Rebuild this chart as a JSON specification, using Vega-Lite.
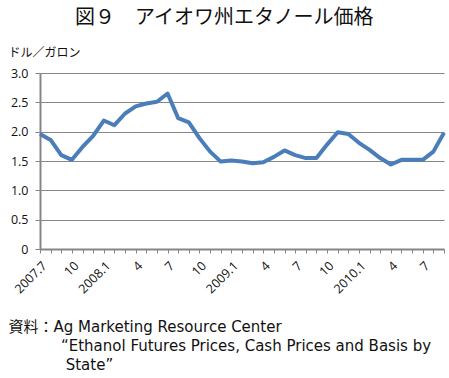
{
  "$schema": "https://vega.github.io/schema/vega-lite/v6.json",
  "width": 404,
  "height": 176,
  "autosize": {"type": "none"},
  "padding": {"left": 40, "top": 73, "right": 5, "bottom": 129},
  "background": "white",
  "title": {
    "text": "図９　アイオワ州エタノール価格",
    "font": "Noto Sans CJK JP",
    "fontSize": 20,
    "fontWeight": "normal",
    "color": "#111111",
    "anchor": "start",
    "frame": "group",
    "orient": "top",
    "dx": 35,
    "offset": 18
  },
  "data": {
    "values": [
      {"date": "2007-07", "price": 1.96},
      {"date": "2007-08", "price": 1.86},
      {"date": "2007-09", "price": 1.60},
      {"date": "2007-10", "price": 1.52},
      {"date": "2007-11", "price": 1.74},
      {"date": "2007-12", "price": 1.93},
      {"date": "2008-01", "price": 2.19},
      {"date": "2008-02", "price": 2.11},
      {"date": "2008-03", "price": 2.31},
      {"date": "2008-04", "price": 2.43},
      {"date": "2008-05", "price": 2.48},
      {"date": "2008-06", "price": 2.51},
      {"date": "2008-07", "price": 2.65},
      {"date": "2008-08", "price": 2.23},
      {"date": "2008-09", "price": 2.16},
      {"date": "2008-10", "price": 1.89},
      {"date": "2008-11", "price": 1.66},
      {"date": "2008-12", "price": 1.49},
      {"date": "2009-01", "price": 1.51},
      {"date": "2009-02", "price": 1.49},
      {"date": "2009-03", "price": 1.46},
      {"date": "2009-04", "price": 1.48},
      {"date": "2009-05", "price": 1.57},
      {"date": "2009-06", "price": 1.68},
      {"date": "2009-07", "price": 1.60},
      {"date": "2009-08", "price": 1.55},
      {"date": "2009-09", "price": 1.55},
      {"date": "2009-10", "price": 1.78},
      {"date": "2009-11", "price": 1.99},
      {"date": "2009-12", "price": 1.96},
      {"date": "2010-01", "price": 1.81},
      {"date": "2010-02", "price": 1.69},
      {"date": "2010-03", "price": 1.55},
      {"date": "2010-04", "price": 1.44},
      {"date": "2010-05", "price": 1.52},
      {"date": "2010-06", "price": 1.52},
      {"date": "2010-07", "price": 1.52},
      {"date": "2010-08", "price": 1.66},
      {"date": "2010-09", "price": 1.98}
    ]
  },
  "mark": {"type": "line", "color": "#4A7EBB", "strokeWidth": 4, "strokeJoin": "round", "strokeCap": "butt"},
  "encoding": {
    "x": {
      "field": "date",
      "type": "ordinal",
      "sort": null,
      "scale": {"type": "point", "padding": 0},
      "axis": {
        "labelExpr": "datum.label == '2007-07' ? '2007.7' : (slice(datum.label, 5) == '01' ? slice(datum.label, 0, 4) + '.1' : (indexof(['04','07','10'], slice(datum.label, 5)) >= 0 ? toString(toNumber(slice(datum.label, 5))) : ''))",
        "labelAngle": -45,
        "labelFont": "Open Sans",
        "labelFontSize": 12.5,
        "labelColor": "#111111",
        "labelPadding": 6,
        "labelOverlap": false,
        "domainColor": "#868686",
        "domainWidth": 2,
        "tickColor": "#868686",
        "tickSize": 4,
        "tickWidth": 1,
        "grid": false,
        "title": ["資料：Ag Marketing Resource Center", "\u200b\u00a0\u00a0\u00a0\u00a0\u00a0\u00a0\u00a0\u00a0\u00a0\u00a0\u00a0“Ethanol Futures Prices, Cash Prices and Basis by", "\u200b\u00a0\u00a0\u00a0\u00a0\u00a0\u00a0\u00a0\u00a0\u00a0\u00a0\u00a0\u00a0State”"],
        "titleFont": "DejaVu Sans, Noto Sans CJK JP",
        "titleFontSize": 15,
        "titleFontWeight": "normal",
        "titleColor": "#111111",
        "titleAlign": "left",
        "titleAnchor": "start",
        "titleBaseline": "middle",
        "titleLineHeight": 19,
        "titleX": -32,
        "titleY": 77
      }
    },
    "y": {
      "field": "price",
      "type": "quantitative",
      "scale": {"domain": [0, 3]},
      "axis": {
        "values": [0, 0.5, 1, 1.5, 2, 2.5, 3],
        "labelExpr": "datum.value == 0 ? '0' : format(datum.value, '.1f')",
        "labelFont": "Open Sans",
        "labelFontSize": 12.5,
        "labelColor": "#111111",
        "labelPadding": 7,
        "domainColor": "#868686",
        "domainWidth": 2,
        "tickColor": "#868686",
        "tickSize": 5,
        "gridColor": "#868686",
        "gridWidth": 1.2,
        "title": "ドル／ガロン",
        "titleFont": "Noto Sans CJK JP",
        "titleFontSize": 12,
        "titleFontWeight": "normal",
        "titleColor": "#111111",
        "titleAngle": 0,
        "titleAlign": "left",
        "titleBaseline": "middle",
        "titleX": -32,
        "titleY": -21
      }
    }
  },
  "config": {"view": {"stroke": null}}
}
